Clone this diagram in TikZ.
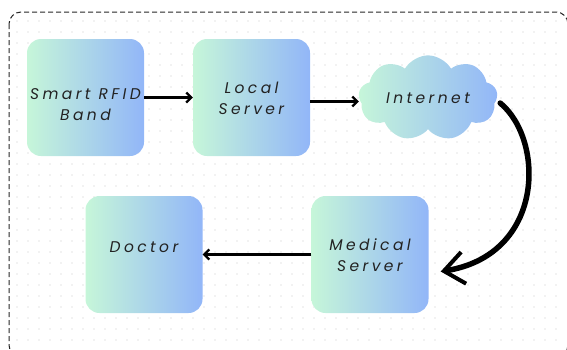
\documentclass[tikz,border=0pt]{standalone}
\usepackage{fontspec}
\usepackage{tikz}
\usetikzlibrary{arrows.meta,shapes.symbols}
\newfontfamily\flowfont[LetterSpace=22]{Poppins}
\definecolor{mintc}{HTML}{C6F6D9}
\definecolor{bluec}{HTML}{92B6F8}
\definecolor{dotc}{HTML}{C8C8C8}
\definecolor{inkc}{HTML}{222222}
\tikzset{
    box/.style={rounded corners=14pt, minimum width=117pt, minimum height=117pt,
        left color=mintc, right color=bluec, draw=none},
    txt/.style={align=center, text=inkc, font=\flowfont\itshape\fontsize{15.5}{21}\selectfont},
    flow/.style={line width=2.2pt, -{Straight Barb[length=5pt,width=10pt]}},
    bigflow/.style={line width=5.5pt, line cap=round,
        -{Straight Barb[length=20pt,width=32pt,line width=4pt]}},
    frame/.style={draw=black!85, line width=1pt, rounded corners=12pt,
        dash pattern=on 5pt off 3pt}
}
\begin{document}
\begin{tikzpicture}[x=1pt,y=-1pt]
    \useasboundingbox (0,0) rectangle (567,349);
    \clip (0,0) rectangle (567,349);
    % dotted sheet
    \foreach \x in {17,28,...,560}
        \foreach \y in {21,32,...,345}
            \fill[dotc] (\x,\y) circle (0.65pt);
    \draw[frame] (9,12) rectangle (568,357);

    \node[box, label={[txt,yshift=-7pt]center:Smart RFID\\Band}] (rfid) at (85.5,97.5) {};
    \node[box, label={[txt,yshift=-1pt]center:Local\\Server}] (local) at (251.5,97.5) {};
    \node[cloud, cloud puffs=9, cloud puff arc=120, aspect=1.8,
          minimum width=139pt, minimum height=80pt, inner sep=0pt,
          left color=mintc, right color=bluec, draw=none, txt] (net) at (428,98) {Internet};
    \node[box, label={[txt,yshift=-1pt]center:Medical\\Server}] (med) at (370,254.5) {};
    \node[box, label={[txt,yshift=7pt]center:Doctor}] (doc) at (144,254.5) {};

    \draw[flow] (rfid) -- (local);
    \draw[flow] ([yshift=-4pt]local.east) -- ([yshift=-4pt]local.east -| net.west);
    \draw[flow] (med) -- (doc);
    \draw[bigflow] ([shift={(3pt,-5pt)}]net.east) .. controls (545,140) and (545,255)
                   .. ([shift={(12pt,-17pt)}]med.east);
\end{tikzpicture}
\end{document}
